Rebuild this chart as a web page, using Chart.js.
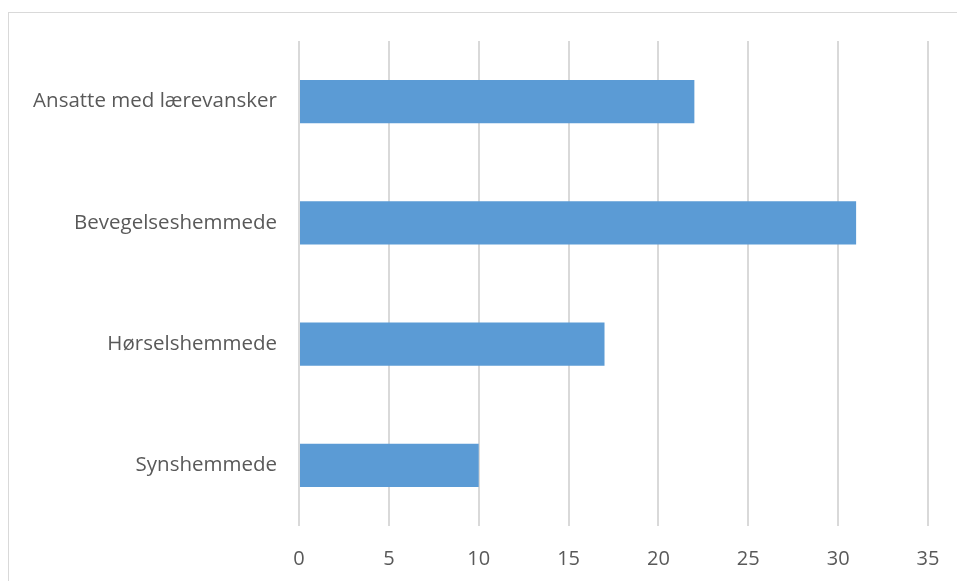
<!DOCTYPE html>
<html>
<head>
<meta charset="utf-8">
<script src="https://cdn.jsdelivr.net/npm/chart.js@4"></script>
<style>
  html, body { margin: 0; padding: 0; background: #fff; }
  #frame {
    position: absolute; left: 8px; top: 12px; width: 1000px; height: 1000px;
    border-left: 1px solid #d9d9d9; border-top: 1px solid #d9d9d9;
  }
  #wrap { position: absolute; left: 0; top: 0; width: 957px; height: 581px; }
</style>
</head>
<body>
<div id="frame"></div>
<div id="wrap"><canvas id="barChart"></canvas></div>
<script>
const categories = ['Ansatte med lærevansker', 'Bevegelseshemmede', 'Hørselshemmede', 'Synshemmede']
const values = [22, 31, 17, 10]
const xMin = 0
const xMax = 35
const xStep = 5

const textColor = '#595959'
const gridColor = '#d9d9d9'
const fontFamily = '"Open Sans", Lato, sans-serif'

const context = document.getElementById('barChart')

const chart = new Chart(context, {
  type: 'bar',
  data: {
    labels: categories,
    datasets: [
      {
        data: values,
        backgroundColor: '#5b9bd5',
        borderWidth: 0,
        categoryPercentage: 1,
        barPercentage: 0.355,
      }
    ]
  },
  options: {
    indexAxis: 'y',
    responsive: true,
    maintainAspectRatio: false,
    animation: false,
    layout: { padding: { top: 41, right: 29, bottom: 0, left: 0 } },
    plugins: {
      legend: { display: false },
      tooltip: { enabled: false }
    },
    scales: {
      x: {
        min: xMin,
        max: xMax,
        afterBuildTicks: (scale) => { scale.options.ticks.maxRotation = 0 },
        ticks: {
          stepSize: xStep,
          color: textColor,
          font: { family: fontFamily, size: 20 },
          padding: 21
        },
        grid: { color: gridColor, lineWidth: 2, drawTicks: false },
        border: { display: false },
        afterFit: (scale) => { scale.height = 55; scale.paddingRight = 0; scale.paddingLeft = 0 }
      },
      y: {
        ticks: {
          color: textColor,
          font: { family: fontFamily, size: 20.5 },
          padding: 14
        },
        grid: { display: false },
        border: { display: false },
        afterFit: (scale) => { scale.width = 299 }
      }
    }
  }
})
</script>
</body>
</html>
